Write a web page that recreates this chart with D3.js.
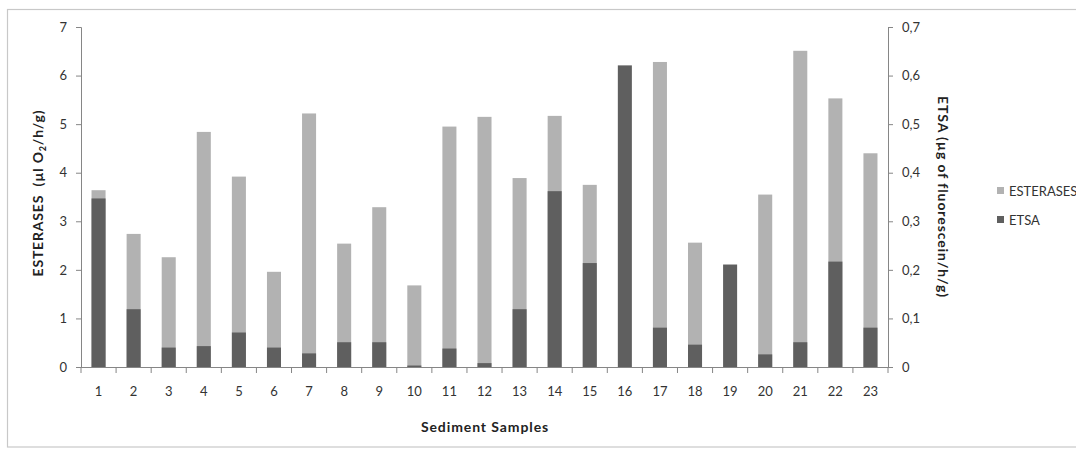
<!DOCTYPE html>
<html><head><meta charset="utf-8">
<script src="https://cdn.jsdelivr.net/npm/d3@7"></script>
<style>body{margin:0;background:#fff}svg{display:block}text{font-family:Lato,"Open Sans",sans-serif}</style>
</head><body><svg id="c" width="1076" height="449"></svg>
<script>
const categories = ["1","2","3","4","5","6","7","8","9","10","11","12","13","14","15","16","17","18","19","20","21","22","23"];
const esterases = [3.64,2.74,2.26,4.84,3.92,1.96,5.22,2.54,3.29,1.68,4.95,5.15,3.89,5.17,3.75,0,6.28,2.56,0,3.55,6.51,5.53,4.40];
const etsa = [0.347,0.119,0.040,0.043,0.071,0.040,0.028,0.051,0.051,0.003,0.038,0.008,0.119,0.362,0.214,0.621,0.081,0.046,0.211,0.026,0.051,0.217,0.081];
const leftTicks = [0,1,2,3,4,5,6,7];
const rightTicks = [0,0.1,0.2,0.3,0.4,0.5,0.6,0.7];
const rightTickLabels = ["0","0,1","0,2","0,3","0,4","0,5","0,6","0,7"];
const seriesNames = ["ESTERASES","ETSA"];
const colors = ["#b2b2b2","#5f5f5f"];

const svg = d3.select("#c");
const L = 81, R = 888, T = 27, B = 367;
const x = d3.scaleBand().domain(categories).range([L,R]).paddingInner(0.6).paddingOuter(0.3);
const yL = d3.scaleLinear().domain([0,7]).range([B,T]);
const yR = d3.scaleLinear().domain([0,0.7]).range([B,T]);
const axisCol = "#868686", txtCol = "#333333";

// outer frame
svg.append("rect").attr("x",7.5).attr("y",9.5).attr("width",1100).attr("height",437.5)
  .attr("fill","none").attr("stroke","#c8c8c8").attr("stroke-width",1.2);

// bars
svg.append("g").selectAll("rect").data(categories).join("rect")
  .attr("x",d=>x(d)).attr("width",x.bandwidth())
  .attr("y",(d,i)=>yL(esterases[i])).attr("height",(d,i)=>B-yL(esterases[i]))
  .attr("fill",colors[0]);
svg.append("g").selectAll("rect").data(categories).join("rect")
  .attr("x",d=>x(d)).attr("width",x.bandwidth())
  .attr("y",(d,i)=>yR(etsa[i])).attr("height",(d,i)=>B-yR(etsa[i]))
  .attr("fill",colors[1]);

// left axis
const gl = svg.append("g").attr("transform",`translate(${L},0)`)
  .call(d3.axisLeft(yL).tickValues(leftTicks).tickSize(5).tickPadding(9).tickFormat(d3.format("d")));
// right axis
const gr = svg.append("g").attr("transform",`translate(${R},0)`)
  .call(d3.axisRight(yR).tickValues(rightTicks).tickSize(5).tickPadding(9).tickFormat((d,i)=>rightTickLabels[i]));
// bottom axis
const gb = svg.append("g").attr("transform",`translate(0,${B})`)
  .call(d3.axisBottom(x).tickSize(0).tickPadding(20));
[gl,gr,gb].forEach(g=>{
  g.select(".domain").attr("stroke",axisCol);
  g.selectAll(".tick line").attr("stroke",axisCol);
  g.selectAll("text").attr("fill",txtCol).style("font-size","13px").style("font-family","Lato,'Open Sans',sans-serif");
});
gb.select(".domain").attr("d",`M${L},0.5H${R}`);
// category separator ticks
svg.append("g").selectAll("line").data(d3.range(categories.length+1)).join("line")
  .attr("x1",i=>L+i*(R-L)/categories.length).attr("x2",i=>L+i*(R-L)/categories.length)
  .attr("y1",B).attr("y2",B+6).attr("stroke",axisCol);

// titles
svg.append("text").attr("transform",`translate(43,193) rotate(-90)`).attr("text-anchor","middle")
  .attr("fill","#222").style("font-size","14px").style("font-weight","bold").style("letter-spacing","0.8px")
  .html('ESTERASES &#160;(µl O<tspan font-size="9" dy="3">2</tspan><tspan dy="-3">/h/g)</tspan>');
svg.append("text").attr("transform",`translate(938,197) rotate(90)`).attr("text-anchor","middle")
  .attr("fill","#222").style("font-size","14px").style("font-weight","bold").style("letter-spacing","0.9px")
  .text("ETSA (µg of fluorescein/h/g)");
svg.append("text").attr("x",485).attr("y",432).attr("text-anchor","middle")
  .attr("fill","#222").style("font-size","14px").style("font-weight","bold").style("letter-spacing","0.9px")
  .text("Sediment Samples");

// legend
const lg = svg.append("g").selectAll("g").data(seriesNames).join("g")
  .attr("transform",(d,i)=>`translate(997,${191+i*29})`);
lg.append("rect").attr("x",0).attr("y",-4).attr("width",7).attr("height",7).attr("fill",(d,i)=>colors[i]);
lg.append("text").attr("x",12).attr("y",5).attr("fill",txtCol).style("font-size","13px").text(d=>d);
</script></body></html>
